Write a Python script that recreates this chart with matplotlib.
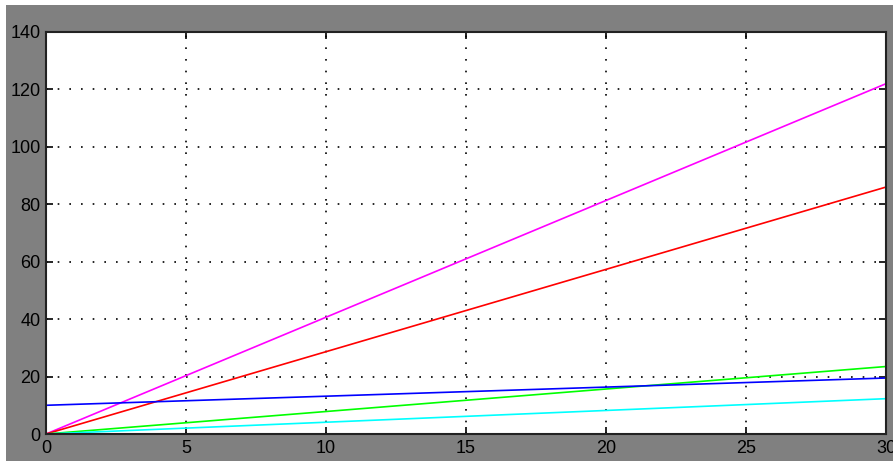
import matplotlib.pyplot as plt
from matplotlib.patches import Rectangle

# time axis end points and line values
t = [0, 30]
magenta = [0, 122]
red = [0, 86]
green = [0, 23.5]
blue = [10, 19.5]
cyan = [0, 12.3]

plt.rcParams['font.family'] = ['Liberation Sans', 'DejaVu Sans']

fig = plt.figure(figsize=(8.93, 4.61), dpi=100, facecolor='white')
fig.patches.append(Rectangle((6/893, 0), 1 - 6/893, 1 - 5/461, transform=fig.transFigure,
                             facecolor='#808080', edgecolor='none', zorder=-10))
ax = fig.add_axes([46/893, 1 - 434/461, (886-46)/893, (434-32)/461])
ax.set_facecolor('white')

ax.plot(t, magenta, color='#ff00ff', lw=1.2)
ax.plot(t, red, color='#ff0000', lw=1.2)
ax.plot(t, green, color='#00ff00', lw=1.2)
ax.plot(t, blue, color='#0000ff', lw=1.2)
ax.plot(t, cyan, color='#00ffff', lw=1.2)

ax.set_xlim(0, 30)
ax.set_ylim(0, 140)
ax.set_xticks(range(0, 31, 5))
ax.set_yticks(range(0, 141, 20))
ax.grid(True, color='black', linestyle=(0, (1, 6)), linewidth=1.2)
ax.tick_params(direction='in', length=5, width=1.2, top=True, right=True,
               labelsize=13, colors='black', pad=4)
for s in ax.spines.values():
    s.set_linewidth(1.5)
    s.set_color('#222222')

fig.savefig('out.png', dpi=100, facecolor=fig.get_facecolor())
